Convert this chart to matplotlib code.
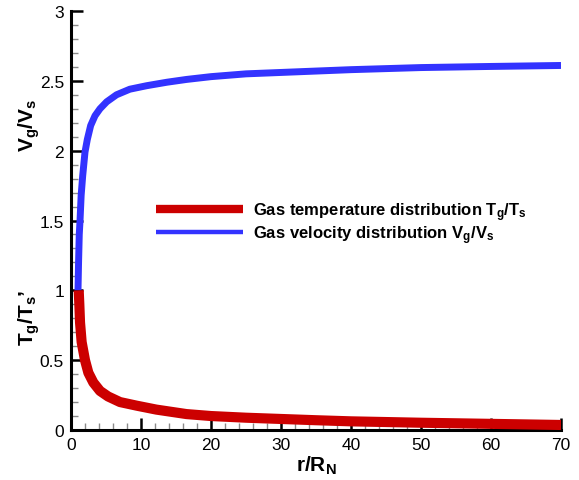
import matplotlib
matplotlib.use("Agg")
import matplotlib.pyplot as plt
from matplotlib.ticker import MultipleLocator, FuncFormatter

plt.rcParams['font.family'] = ['Liberation Sans', 'DejaVu Sans']
plt.rcParams['mathtext.fontset'] = 'custom'
plt.rcParams['mathtext.rm'] = 'Liberation Sans:bold'
plt.rcParams['mathtext.it'] = 'Liberation Sans:bold'
plt.rcParams['mathtext.bf'] = 'Liberation Sans:bold'

# Data
r_v = [1.0, 1.08, 1.18, 1.29, 1.45, 1.67, 2.0, 2.33, 2.81, 3.43, 4.14, 5.1, 6.5, 8.4,
       10.8, 13.7, 16.5, 20, 25, 30, 35, 40, 50, 60, 70]
vel = [1.0, 1.2, 1.4, 1.5, 1.68, 1.82, 1.99, 2.08, 2.18, 2.25, 2.30, 2.35, 2.40, 2.44,
       2.465, 2.49, 2.51, 2.53, 2.55, 2.56, 2.57, 2.58, 2.595, 2.603, 2.61]

r_t = [1.1, 1.19, 1.29, 1.52, 2.0, 2.48, 3.19, 4.14, 5.3, 7.0, 9.4, 12.2, 16.5, 20,
       25, 30, 35, 40, 50, 60, 70]
temp = [1.0, 0.9, 0.77, 0.63, 0.50, 0.41, 0.34, 0.28, 0.24, 0.20, 0.174, 0.146, 0.114, 0.10,
        0.088, 0.079, 0.07, 0.062, 0.052, 0.044, 0.036]

label_t = "Gas temperature distribution T$_g$/T$_s$"
label_v = "Gas velocity distribution V$_g$/V$_s$"

fig = plt.figure(figsize=(5.79, 4.81), dpi=100)
ax = fig.add_axes([71/579, 1-431/481, (561-71)/579, (431-12)/481])

lt, = ax.plot(r_t, temp, color='#cc0000', lw=7.3, solid_capstyle='butt',
              solid_joinstyle='round', label=label_t, zorder=3)
lv, = ax.plot(r_v, vel, color='#3333ff', lw=5.0, solid_capstyle='butt',
              solid_joinstyle='round', label=label_v, zorder=2)

ax.set_xlim(0, 70)
ax.set_ylim(0, 3)
ax.xaxis.set_major_locator(MultipleLocator(10))
ax.xaxis.set_minor_locator(MultipleLocator(2))
ax.yaxis.set_major_locator(MultipleLocator(0.5))
ax.yaxis.set_minor_locator(MultipleLocator(0.1))
ax.yaxis.set_major_formatter(FuncFormatter(lambda v, p: f"{v:g}"))

for s in ['top', 'right']:
    ax.spines[s].set_visible(False)
for s in ['left', 'bottom']:
    ax.spines[s].set_linewidth(2.2)

ax.tick_params(which='major', direction='in', length=8.5, width=1.8, color='black',
               labelsize=12.5, pad=5)
ax.tick_params(which='minor', direction='in', length=5, width=1.0, color='#8a8a8a')

ax.set_xlabel("r/R$_N$", fontsize=15, fontweight='bold', labelpad=1)

fig.text(29/579, 1-125/481, "V$_g$/V$_s$", rotation=90, fontsize=15, fontweight='bold',
         ha='center', va='center')
fig.text(29/579, 1-318/481, "T$_g$/T$_s$\u2019", rotation=90, fontsize=15, fontweight='bold',
         ha='center', va='center')

leg = ax.legend(handles=[lt, lv], loc='center left', bbox_to_anchor=(156/579, 1-224/481),
                bbox_transform=fig.transFigure, frameon=False, borderpad=0, borderaxespad=0,
                handlelength=5.2, handletextpad=0.6, labelspacing=0.0,
                prop={'weight': 'bold', 'size': 12})
leg.get_lines()[0].set_linewidth(6)
leg.get_lines()[1].set_linewidth(3.2)

fig.savefig("out.png", dpi=100)
